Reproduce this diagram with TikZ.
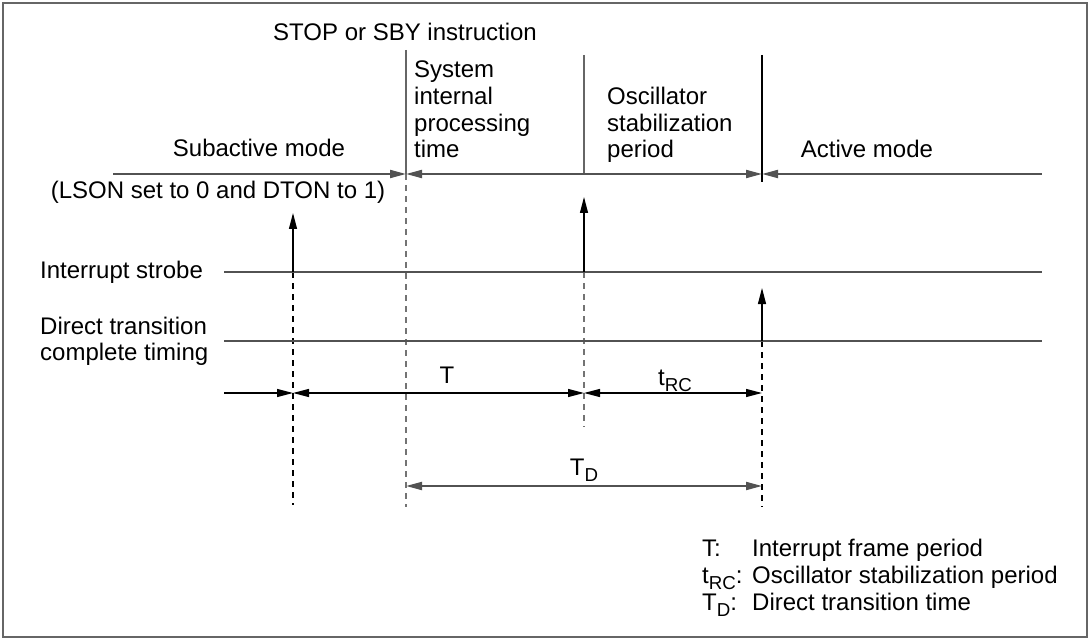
\documentclass[tikz,border=0pt]{standalone}
\usepackage{fontspec}
\setmainfont{Liberation Sans}
\usetikzlibrary{arrows.meta}
\newcommand\subx[1]{\raisebox{-0.28em}{\scalebox{0.78}{#1}}}
\begin{document}
\begin{tikzpicture}[x=1pt,y=-1pt,
  lbl/.style={inner sep=0pt,font=\fontsize{24}{26}\selectfont},
  gline/.style={draw=black!68,line width=2pt},
  gvert/.style={draw=black!60,line width=1.5pt},
  bline/.style={draw=black,line width=1.2pt},
  gdash/.style={draw=black!55,line width=1.5pt,dash pattern=on 6pt off 5pt},
  bdash/.style={draw=black,line width=1.2pt,dash pattern=on 6pt off 5pt},
  tip/.style={-{Triangle[length=16pt,width=8pt]}},
  tips/.style={{Triangle[length=16pt,width=8pt]}-{Triangle[length=16pt,width=8pt]}},
  rtip/.style={{Triangle[length=16pt,width=8pt]}-}]
\useasboundingbox (0,0) rectangle (1090,639);
\draw[draw=black!60,line width=1.5pt] (3,3) rectangle (1087,637);
% coordinates
\coordinate (L0) at (113,174);
\coordinate (A) at (406,174);
\coordinate (B) at (584,174);
\coordinate (C) at (762,174);
\coordinate (R0) at (1042,174);
\coordinate (Atop) at (406,50);
\coordinate (Btop) at (584,55);
\coordinate (Ctop) at (762,55);
\coordinate (Cbot) at (762,182);
\coordinate (S0) at (224,272);
\coordinate (S1) at (1042,272);
\coordinate (D0) at (224,341);
\coordinate (D1) at (1042,341);
\coordinate (P1) at (293,272);
\coordinate (P1t) at (293,213);
\coordinate (P2) at (584,272);
\coordinate (P2t) at (584,197);
\coordinate (P3) at (762,341);
\coordinate (P3t) at (762,288);
\coordinate (P1b) at (293,505);
\coordinate (Ab) at (406,507);
\coordinate (Bb) at (584,427);
\coordinate (Cb) at (762,507);
\coordinate (T0) at (224,393);
\coordinate (T1) at (293,393);
\coordinate (T2) at (584,393);
\coordinate (T3) at (762,393);
\coordinate (TD0) at (406,486);
\coordinate (TD1) at (762,486);
% verticals
\draw[gvert] (Atop) -- (A);
\draw[gvert] (Btop) -- (B);
\draw[draw=black,line width=1.2pt] (Ctop) -- (Cbot);
% dashed
\draw[gdash] (A) -- (Ab);
\draw[gdash] (P2) -- (Bb);
\draw[bdash] (P1) -- (P1b);
\draw[bdash] (P3) -- (Cb);
% horizontal lines
\draw[gline,tip] (L0) -- (A);
\draw[gline,tips] (A) -- (C);
\draw[gline,rtip] (C) -- (R0);
\draw[gline] (S0) -- (S1);
\draw[gline] (D0) -- (D1);
% up arrows
\draw[bline,tip] (P1) -- (P1t);
\draw[bline,tip] (P2) -- (P2t);
\draw[bline,tip] (P3) -- (P3t);
% T line
\draw[bline,tip] (T0) -- (T1);
\draw[bline,tips] (T1) -- (T2);
\draw[bline,tips] (T2) -- (T3);
\draw[gline,tips] (TD0) -- (TD1);
% labels
\node[lbl,anchor=base west] (stop) at (273,41) {STOP or SBY instruction};
\node[lbl,anchor=base west] (sys1) at (414,78) {System};
\node[lbl,anchor=base west] (sys2) at (414,105) {internal};
\node[lbl,anchor=base west] (sys3) at (414,132) {processing};
\node[lbl,anchor=base west] (sys4) at (414,158) {time};
\node[lbl,anchor=base west] (osc1) at (607,105) {Oscillator};
\node[lbl,anchor=base west] (osc2) at (607,132) {stabilization};
\node[lbl,anchor=base west] (osc3) at (607,158) {period};
\node[lbl,anchor=base] (sub) at (259,157) {Subactive mode};
\node[lbl,anchor=base] (act) at (867,158) {Active mode};
\node[lbl,anchor=base] (lson) at (218,199) {(LSON set to 0 and DTON to 1)};
\node[lbl,anchor=base west] (istr) at (40,278) {Interrupt strobe};
\node[lbl,anchor=base west] (dtr1) at (40,334) {Direct transition};
\node[lbl,anchor=base west] (dtr2) at (40,360) {complete timing};
\node[lbl,anchor=base] (tlab) at (447,383) {T};
\node[lbl,anchor=base] (trclab) at (675,385) {t\subx{RC}};
\node[lbl,anchor=base] (tdlab) at (584,475) {T\subx{D}};
\node[lbl,anchor=base west] (k1) at (702,556) {T:};
\node[lbl,anchor=base west] (v1) at (752,556) {Interrupt frame period};
\node[lbl,anchor=base west] (k2) at (702,583) {t\subx{RC}:};
\node[lbl,anchor=base west] (v2) at (752,583) {Oscillator stabilization period};
\node[lbl,anchor=base west] (k3) at (702,610) {T\subx{D}:};
\node[lbl,anchor=base west] (v3) at (752,610) {Direct transition time};
\end{tikzpicture}
\end{document}
